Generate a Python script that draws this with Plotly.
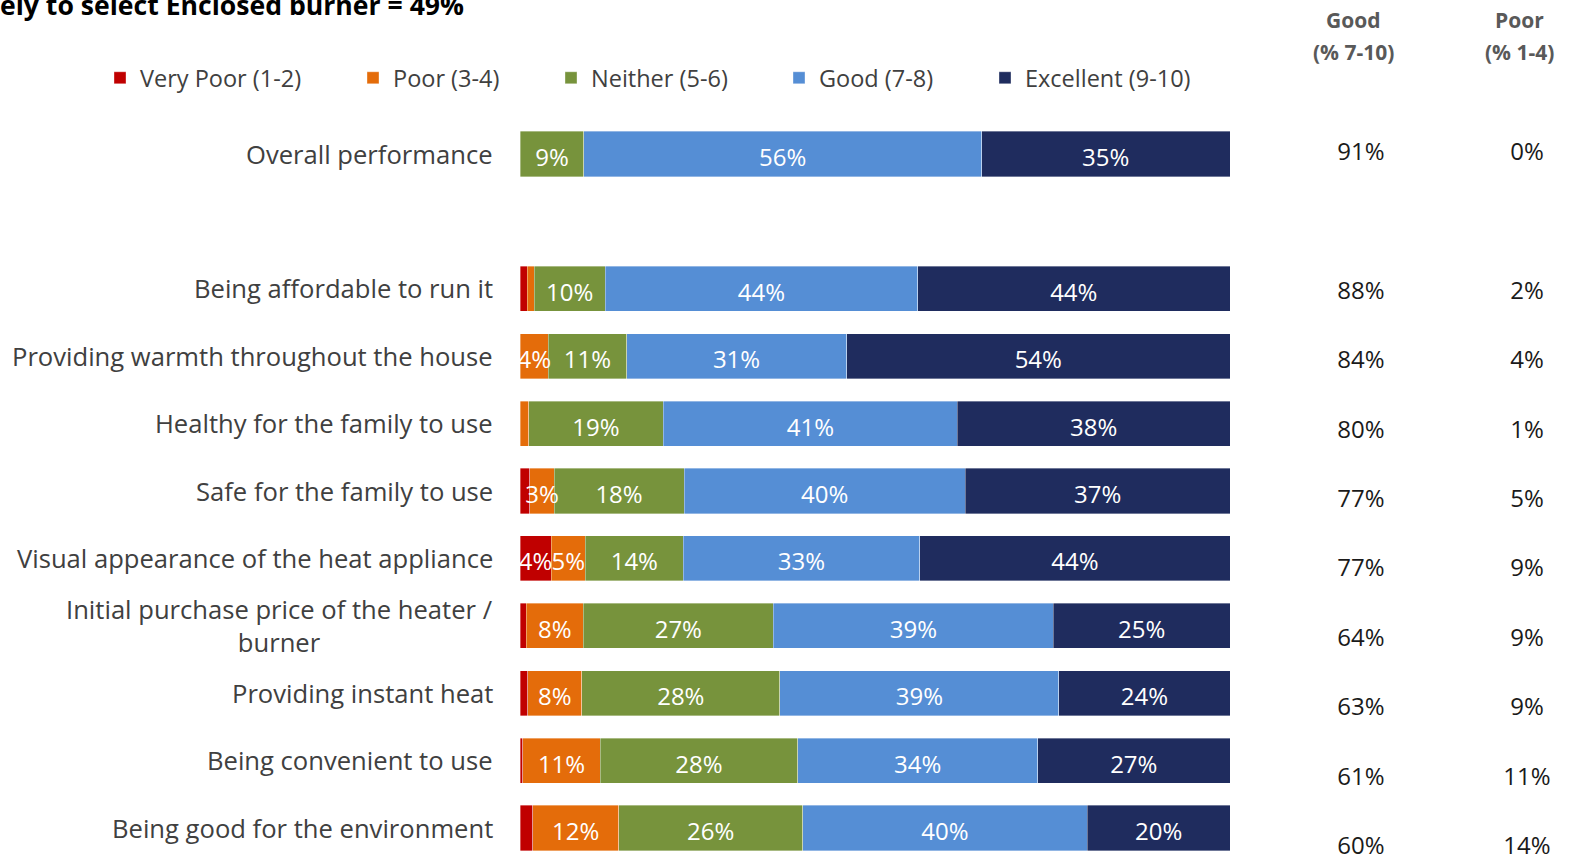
import plotly.graph_objects as go

# ---------------- data ----------------
categories = [
    "Overall performance",
    "",
    "Being affordable to run it",
    "Providing warmth throughout the house",
    "Healthy for the family to use",
    "Safe for the family to use",
    "Visual appearance of the heat appliance",
    "Initial purchase price of the heater /<br>burner",
    "Providing instant heat",
    "Being convenient to use",
    "Being good for the environment",
]
very_poor = [0.0, None, 1.0, 0.0, 0.0, 1.4, 4.4, 0.9, 1.1, 0.4, 1.8]
poor      = [0.0, None, 1.0, 4.0, 1.2, 3.4, 4.8, 8.0, 7.6, 10.9, 12.1]
neither   = [9.0, None, 10.0, 11.0, 19.0, 18.3, 13.8, 26.8, 27.9, 27.8, 25.9]
good      = [56.0, None, 44.0, 31.0, 41.4, 39.6, 33.3, 39.4, 39.3, 33.8, 40.1]
excellent = [35.0, None, 44.0, 54.0, 38.4, 37.3, 43.7, 24.9, 24.1, 27.1, 20.1]

good_pct = ["91%", "", "88%", "84%", "80%", "77%", "77%", "64%", "63%", "61%", "60%"]
poor_pct = ["0%", "", "2%", "4%", "1%", "5%", "9%", "9%", "9%", "11%", "14%"]

series_names = ["Very Poor (1-2)", "Poor (3-4)", "Neither (5-6)", "Good (7-8)", "Excellent (9-10)"]
series_vals = [very_poor, poor, neither, good, excellent]
colors = ["#C00000", "#E46C0A", "#77933C", "#558ED5", "#1F2C5E"]

title_tail = "ely to select Enclosed burner = 49%"

# ---------------- figure ----------------
W, H = 1570, 855
FONT = "Open Sans"
ypos = list(range(len(categories)))
legend_ids = ["legend", "legend2", "legend3", "legend4", "legend5"]
legend_text_x = [141, 394, 592, 820, 1026]   # where each legend label starts (px)

fig = go.Figure()
for name, vals, col, lid in zip(series_names, series_vals, colors, legend_ids):
    fig.add_trace(go.Bar(
        name=name, y=ypos, x=vals, orientation="h",
        marker=dict(color=col, line=dict(color="rgba(255,255,255,0.6)", width=0.6)),
        width=0.67, hoverinfo="skip", legend=lid,
    ))

# data labels drawn on top of all segments (centre of each stacked segment)
lab_x, lab_y, lab_t = [], [], []
for i in ypos:
    base = 0.0
    for vals in series_vals:
        v = vals[i]
        if v is None:
            continue
        if v >= 2.5:
            lab_x.append(base + v / 2)
            lab_y.append(i)
            lab_t.append("%d%%" % round(v))
        base += v
fig.add_trace(go.Scatter(
    x=lab_x, y=lab_y, text=lab_t, mode="text",
    textfont=dict(family=FONT, size=24, color="white"),
    yaxis="y3", showlegend=False, hoverinfo="skip",
))

# right-hand columns on their own overlay axis
fig.add_trace(go.Scatter(
    x=[0.5] * len(good_pct), y=ypos, text=good_pct, mode="text",
    textfont=dict(family=FONT, size=24, color="#1a1a1a"),
    xaxis="x2", yaxis="y2", showlegend=False, hoverinfo="skip",
))
fig.add_trace(go.Scatter(
    x=[1.5] * len(poor_pct), y=ypos, text=poor_pct, mode="text",
    textfont=dict(family=FONT, size=24, color="#1a1a1a"),
    xaxis="x2", yaxis="y2", showlegend=False, hoverinfo="skip",
))

# category labels
for i, c in enumerate(categories):
    if not c:
        continue
    fig.add_annotation(
        x=495 / W, xref="paper", xanchor="right",
        y=i, yref="y", yanchor="middle",
        text=c, showarrow=False, align="center",
        font=dict(family=FONT, size=25.6, color="#404040"),
    )

# column headers
for xc, l1, l2 in [(1353, "Good", "(% 7-10)"), (1519, "Poor", "(% 1-4)")]:
    for yc, t in [(20, l1), (52, l2)]:
        fig.add_annotation(
            x=xc / W, xref="paper", xanchor="center",
            y=1 - yc / H, yref="paper", yanchor="middle",
            text="<b>" + t + "</b>", showarrow=False,
            font=dict(family=FONT, size=21, color="#595959"),
        )

# truncated title
fig.add_annotation(
    x=466 / W, xref="paper", xanchor="right",
    y=1 - 5 / H, yref="paper", yanchor="middle",
    text="<b>" + title_tail + "</b>", showarrow=False,
    font=dict(family=FONT, size=26.6, color="#000000"),
)

# pixel mapping: row k centre at 154 + 67.4*k
k_top = -154 / 67.4
k_bot = (H - 154) / 67.4
# labels axis: same mapping, nudged 6 px down
d3 = 6 / 67.4
# right column: row k centre at 154 + 69.4*k
k2_top = -154 / 69.4
k2_bot = (H - 154) / 69.4
# right column x: px = 1278 + 166*x over domain 1270..1570
x2_lo = (1270 - 1278) / 166
x2_hi = (1570 - 1278) / 166

legends = {}
for lid, tx in zip(legend_ids, legend_text_x):
    legends[lid] = dict(
        orientation="h", x=(tx - 41) / W, xanchor="left", y=1 - 78 / H, yanchor="middle",
        font=dict(family=FONT, size=23.5, color="#404040"),
        itemwidth=30, bgcolor="rgba(0,0,0,0)",
    )

fig.update_layout(
    width=W, height=H,
    margin=dict(l=0, r=0, t=0, b=0),
    paper_bgcolor="white", plot_bgcolor="white",
    barmode="stack",
    font=dict(family=FONT, color="#404040"),
    xaxis=dict(domain=[520 / W, 1230 / W], range=[0, 100], visible=False, fixedrange=True),
    yaxis=dict(domain=[0, 1], range=[k_bot, k_top], visible=False, fixedrange=True),
    yaxis3=dict(domain=[0, 1], range=[k_bot - d3, k_top - d3], visible=False,
                anchor="x", overlaying="y", fixedrange=True),
    xaxis2=dict(domain=[1270 / W, 1.0], range=[x2_lo, x2_hi], visible=False, anchor="y2"),
    yaxis2=dict(domain=[0, 1], range=[k2_bot, k2_top], visible=False, anchor="x2", overlaying="y"),
    showlegend=True,
    **legends,
)

fig.write_html(
    "out.html",
    config={"displayModeBar": False},
    post_script="document.body.style.margin='0px';document.body.style.overflow='hidden';",
)
